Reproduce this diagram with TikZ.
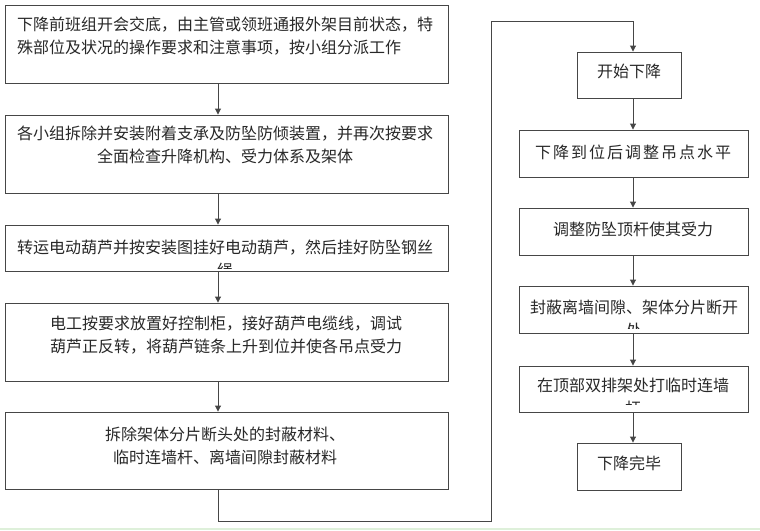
\documentclass[tikz,border=0pt]{standalone}
\usepackage{fontspec}
\setmainfont{Noto Sans CJK SC}
\usetikzlibrary{arrows.meta}
\definecolor{linec}{RGB}{70,70,70}
\definecolor{textc}{RGB}{40,40,40}
\definecolor{bandc}{RGB}{222,240,218}
\tikzset{
  box/.style={draw=linec, line width=0.9pt, rectangle, inner sep=0pt, fill=white},
  txt/.style={inner sep=0pt, text=textc, font=\fontsize{16}{23}\selectfont},
  arr/.style={draw=linec, line width=0.9pt, -{Triangle[width=6pt,length=6pt]}},
  conn/.style={draw=linec, line width=0.9pt}
}
\begin{document}
\begin{tikzpicture}[x=1pt,y=-1pt]
\useasboundingbox (0,0) rectangle (760,530);
\fill[bandc] (0,527.5) rectangle (760,530);
\coordinate (lx) at (218,0);
\coordinate (rx) at (633,0);
% left column boxes
\node[box, minimum width=443pt, minimum height=78pt] (b1) at (226.5,44) {};
\node[box, minimum width=443pt, minimum height=78pt] (b2) at (226.5,154) {};
\node[box, minimum width=443pt, minimum height=46pt] (b3) at (226.5,248) {};
\node[box, minimum width=443pt, minimum height=78pt] (b4) at (226.5,342) {};
\node[box, minimum width=443pt, minimum height=77pt] (b5) at (226.5,450.5) {};
% right column boxes
\node[box, minimum width=104pt, minimum height=46pt] (bA) at (629,75) {};
\node[box, minimum width=229pt, minimum height=47pt] (bB) at (633.5,153.5) {};
\node[box, minimum width=229pt, minimum height=47pt] (bC) at (633.5,231.5) {};
\node[box, minimum width=229pt, minimum height=47pt] (bD) at (633.5,309.5) {};
\node[box, minimum width=229pt, minimum height=46pt] (bE) at (633.5,389) {};
\node[box, minimum width=104pt, minimum height=47pt] (bF) at (629,466.5) {};
% texts
\node[txt, anchor=west, align=left] (t1) at (17,36.5) {下降前班组开会交底，由主管或领班通报外架目前状态，特\\殊部位及状况的操作要求和注意事项，按小组分派工作};
\node[txt, align=center] (t2) at (225,144.5) {各小组拆除并安装附着支承及防坠防倾装置，并再次按要求\\全面检查升降机构、受力体系及架体};
\begin{scope}
\clip (0,226) rectangle (450,268);
\node[txt, align=center] (t3) at (225,258.5) {转运电动葫芦并按安装图挂好电动葫芦，然后挂好防坠钢丝\\绳};
\end{scope}
\node[txt, align=center] (t4) at (226,335) {电工按要求放置好控制柜，接好葫芦电缆线，调试\\葫芦正反转，将葫芦链条上升到位并使各吊点受力};
\node[txt, align=center] (t5) at (225,445.5) {拆除架体分片断头处的封蔽材料、\\临时连墙杆、离墙间隙封蔽材料};
\node[txt] (tA) at (629,71) {开始下降};
\node[txt] (tB) at (633,152) {下\kern2pt 降\kern2pt 到\kern2pt 位\kern2pt 后\kern2pt 调\kern2pt 整\kern2pt 吊\kern2pt 点\kern2pt 水\kern2pt 平};
\node[txt] (tC) at (633,229) {调整防坠顶杆使其受力};
\begin{scope}
\clip (520,287) rectangle (747,328);
\node[txt, align=center] (tD) at (634,318.5) {封蔽离墙间隙、架体分片断开\\处};
\end{scope}
\begin{scope}
\clip (520,367) rectangle (747,404);
\node[txt, align=center] (tE) at (633,396.5) {在顶部双排架处打临时连墙\\杆};
\end{scope}
\node[txt] (tF) at (629,463) {下降完毕};
% connectors
\draw[arr] (b1.south -| lx) -- (b2.north -| lx);
\draw[arr] (b2.south -| lx) -- (b3.north -| lx);
\draw[arr] (b3.south -| lx) -- (b4.north -| lx);
\draw[arr] (b4.south -| lx) -- (b5.north -| lx);
\coordinate (c1) at (491,521);
\coordinate (c2) at (491,21);
\draw[arr] (b5.south -| lx) |- (c1) -- (c2) -| (bA.north -| rx);
\draw[arr] (bA.south -| rx) -- (bB.north -| rx);
\draw[arr] (bB.south -| rx) -- (bC.north -| rx);
\draw[arr] (bC.south -| rx) -- (bD.north -| rx);
\draw[arr] (bD.south -| rx) -- (bE.north -| rx);
\draw[arr] (bE.south -| rx) -- (bF.north -| rx);
\end{tikzpicture}
\end{document}
